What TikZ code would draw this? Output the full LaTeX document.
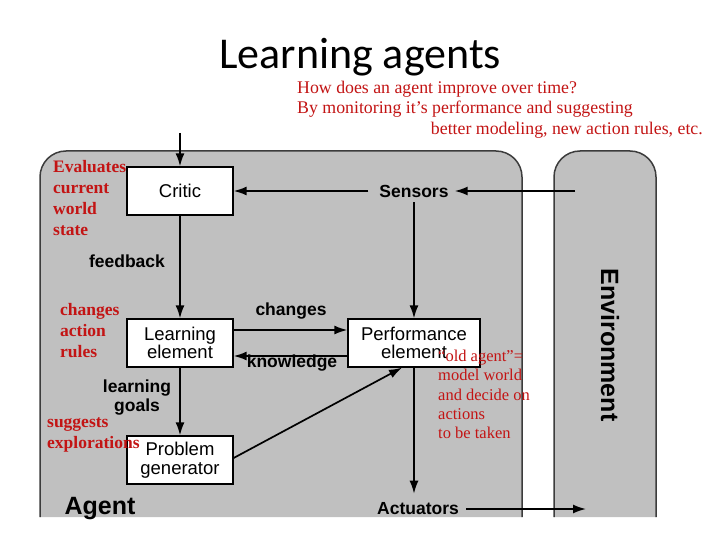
\documentclass[tikz,border=0pt]{standalone}
\usepackage{fontspec}
\setmainfont{Liberation Serif}
\setsansfont{Liberation Sans}
\newfontfamily\titlefont{Carlito}
\usetikzlibrary{arrows.meta}
\definecolor{agray}{RGB}{192,192,192}
\definecolor{edgegray}{RGB}{60,60,60}
\definecolor{annred}{RGB}{195,20,20}
\begin{document}
\begin{tikzpicture}[x=1pt,y=-1pt,
  panel/.style={fill=agray,draw=edgegray,line width=1.5pt,rounded corners=26pt},
  box/.style={draw=black,line width=1.3pt,fill=white,font=\sffamily\fontsize{18.5}{18.5}\selectfont,align=center,inner sep=0,minimum height=48pt},
  lbl/.style={font=\sffamily\bfseries\fontsize{17.5}{19}\selectfont,inner sep=0,align=center},
  ann/.style={font=\bfseries\fontsize{17.5}{21.2}\selectfont,text=annred,align=left,inner sep=0,anchor=north west},
  arr/.style={line width=1.7pt,-{Latex[length=13pt,width=9pt]}},
  ln/.style={line width=1.7pt}]
\useasboundingbox (0,0) rectangle (720,540);
\fill[white] (0,0) rectangle (720,540);
% panels
\path[panel] (40,517) -- (40,151) -- (522,151) -- (522,517);
\path[panel] (554,517) -- (554,151) -- (656,151) -- (656,517);
% title
\node[anchor=base west,inner sep=0,font=\titlefont\fontsize{44}{48}\selectfont] (title) at (219,69) {Learning agents};
\node[anchor=base west,inner sep=0,text=annred,font=\fontsize{17.8}{20}\selectfont] (sub1) at (297,94) {How does an agent improve over time?};
\node[anchor=base west,inner sep=0,text=annred,font=\fontsize{17.8}{20}\selectfont] (sub2) at (297,114) {By monitoring it’s performance and suggesting};
\node[anchor=base east,inner sep=0,text=annred,font=\fontsize{17.8}{20}\selectfont] (sub3) at (703,135) {better modeling, new action rules, etc.};
% boxes
\node[box,minimum width=106pt] (critic) at (180,191) {Critic};
\node[box,minimum width=106pt] (learn) at (180,343) {Learning\\element};
\node[box,minimum width=106pt] (prob) at (180,460) {Problem\\generator};
\node[box,minimum width=132pt] (perf) at (414,343) {Performance\\element};
% plain labels
\node[lbl] (sensors) at (414,191) {Sensors};
\node[lbl] (actuators) at (418,509) {Actuators};
\node[lbl] (feedback) at (127,261) {feedback};
\node[lbl] (changes) at (291,311) {changes};
\node[lbl] (knowledge) at (292,363) {knowledge};
\node[lbl] (goals) at (137,398) {learning\\goals};
\node[lbl,font=\sffamily\bfseries\fontsize{25}{27}\selectfont] (agent) at (100,509) {Agent};
\node[lbl,font=\sffamily\bfseries\fontsize{25}{27}\selectfont,rotate=-90] (env) at (610,345) {Environment};
% free ends
\coordinate (topin) at (180,133);
\coordinate (percept) at (575,191);
\coordinate (actout) at (586,509);
% connectors
\draw[arr] (topin) -- (critic.north);
\draw[arr,shorten <=11pt] (sensors.west) -- (critic.east);
\draw[arr,shorten >=6pt] (percept) -- (sensors.east);
\draw[arr,shorten <=5pt] (sensors.south) -- (perf.north);
\draw[arr] (critic.south) -- (learn.north);
\draw[arr] ([yshift=13pt]learn.east) -- ([yshift=13pt]perf.west);
\draw[arr] ([yshift=-13pt]perf.west) -- ([yshift=-13pt]learn.east);
\draw[arr] (learn.south) -- (prob.north);
\draw[arr] ([yshift=2pt]prob.east) -- ([xshift=-12pt]perf.south);
\draw[arr,shorten >=9pt] (perf.south) -- (perf.south |- actuators.north);
\draw[arr,shorten <=7pt] (actuators.east) -- (actout);
% annotations
\node[ann] (evals) at (53,160) {Evaluates\\current\\world\\state};
\node[ann] (rules) at (60,303) {changes\\action\\rules};
\node[ann] (sugg) at (47,417) {suggests\\explorations};
\node[ann,font=\fontsize{16.5}{19.3}\selectfont] (old) at (438,350) {“old agent”=\\model world\\and decide on\\actions\\to be taken};
\end{tikzpicture}
\end{document}
